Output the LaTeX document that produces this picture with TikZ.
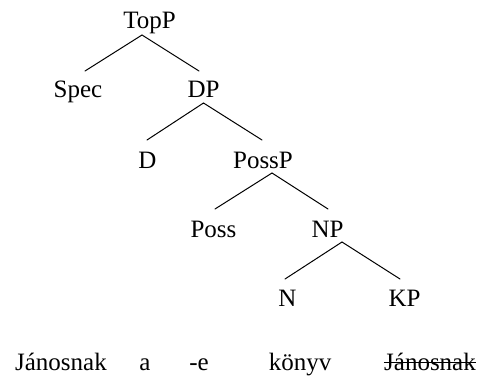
\documentclass[tikz,border=0pt]{standalone}
\usepackage{fontspec}
\setmainfont{Liberation Serif}
\usetikzlibrary{calc}
\begin{document}
\begin{tikzpicture}[x=1pt,y=-1pt,
  lbl/.style={anchor=base,inner sep=0pt,font=\fontsize{25}{30}\selectfont},
  branch/.style={line width=1pt,line cap=round}]
\useasboundingbox (0,0) rectangle (484,383);

% tree nodes (positioned at their baselines)
\node[lbl] (TopP)  at (149.5,28)  {TopP};
\node[lbl] (Spec)  at (78,97)     {Spec};
\node[lbl] (DP)    at (203.5,97)  {DP};
\node[lbl] (D)     at (147.5,168) {D};
\node[lbl] (PossP) at (263,168)   {PossP};
\node[lbl] (Poss)  at (213.5,237) {Poss};
\node[lbl] (NP)    at (327.5,237) {NP};
\node[lbl] (N)     at (287.5,306) {N};
\node[lbl] (KP)    at (404.5,306) {KP};

% branches
\draw[branch] ($(Spec.base)+(7,-26)$) -- ($(TopP.base)+(-7.5,7)$) -- ($(DP.base)+(-4.5,-26)$);
\draw[branch] ($(D.base)+(-0.5,-28)$) -- ($(DP.base)+(0,6)$) -- ($(PossP.base)+(-1,-28)$);
\draw[branch] ($(Poss.base)+(1.5,-28)$) -- ($(PossP.base)+(9,5)$) -- ($(NP.base)+(0.5,-28)$);
\draw[branch] ($(N.base)+(-2.5,-27)$) -- ($(NP.base)+(14.5,5)$) -- ($(KP.base)+(-4.5,-27)$);

% the string below the tree
\node[lbl] (w1) at (61,370)  {Jánosnak};
\node[lbl] (w2) at (145,370) {a};
\node[lbl] (w3) at (199,370) {-e};
\node[lbl] (w4) at (300,370) {könyv};
\node[lbl] (w5) at (430,370) {Jánosnak};
\draw[line width=0.9pt] ($(w5.base west)+(0,-7.5)$) -- ($(w5.base east)+(0,-7.5)$);
\end{tikzpicture}
\end{document}
